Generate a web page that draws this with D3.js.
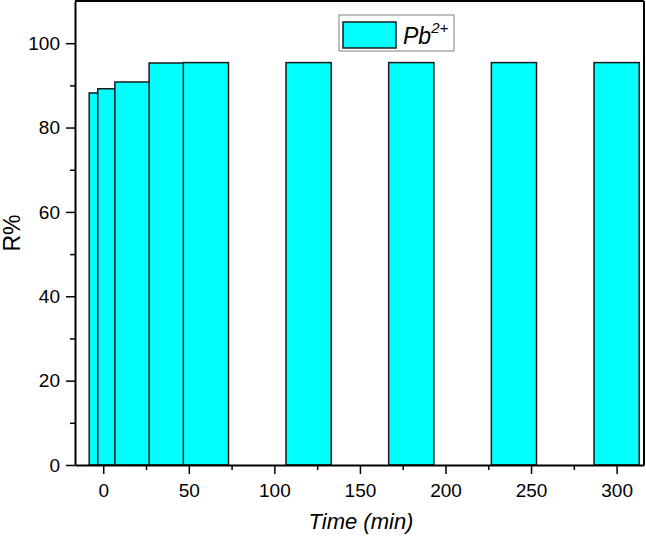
<!DOCTYPE html>
<html>
<head>
<meta charset="utf-8">
<script src="https://cdn.jsdelivr.net/npm/d3@7"></script>
<style>
  body { margin: 0; background: #fff; }
  svg { display: block; font-family: "Liberation Sans", Arial, sans-serif; }
</style>
</head>
<body>
<div id="chart"></div>
<script>
var times = [5, 10, 20, 40, 60, 120, 180, 240, 300];
var removal = [88.2, 89.2, 90.8, 95.3, 95.4, 95.4, 95.4, 95.4, 95.4];
var xTicks = [0, 50, 100, 150, 200, 250, 300];
var yTicks = [0, 20, 40, 60, 80, 100];
var seriesName = 'Pb';

var width = 646, height = 539;
var margin = { left: 75, right: 2, top: 1, bottom: 74 };
var barWidth = 26.4; // in minutes

var svg = d3.select('#chart').append('svg')
    .attr('width', width)
    .attr('height', height);

var x = d3.scaleLinear()
    .domain([-16.5, 316])
    .range([margin.left, width - margin.right]);

var y = d3.scaleLinear()
    .domain([0, 110])
    .range([height - margin.bottom, margin.top]);

svg.append('clipPath').attr('id', 'plot')
    .append('rect')
    .attr('x', margin.left).attr('y', margin.top)
    .attr('width', width - margin.right - margin.left)
    .attr('height', height - margin.bottom - margin.top);

// bars, later ones drawn over earlier ones
svg.append('g')
    .attr('clip-path', 'url(#plot)')
    .selectAll('rect')
    .data(times)
    .enter()
    .append('rect')
    .attr('x', function (d) { return x(d - barWidth / 2); })
    .attr('width', function (d) { return x(d + barWidth / 2) - x(d - barWidth / 2); })
    .attr('y', function (d, i) { return y(removal[i]); })
    .attr('height', function (d, i) { return y(0) - y(removal[i]); })
    .style('fill', '#00ffff')
    .style('stroke', '#1a1a1a')
    .style('stroke-width', 1.5);

// frame top/right
svg.append('line')
    .attr('x1', margin.left).attr('x2', width - margin.right)
    .attr('y1', margin.top).attr('y2', margin.top)
    .style('stroke', '#000').style('stroke-width', 2);
svg.append('line')
    .attr('x1', width - margin.right).attr('x2', width - margin.right)
    .attr('y1', margin.top).attr('y2', y(0))
    .style('stroke', '#000').style('stroke-width', 2);

// minor ticks
var xMinor = d3.range(25, 316, 50);
var yMinor = d3.range(10, 110, 20);

svg.append('g')
    .attr('transform', 'translate(0,' + y(0) + ')')
    .call(d3.axisBottom(x).tickValues(xMinor).tickSize(5).tickFormat(''))
    .call(function (g) { g.select('.domain').remove(); });

svg.append('g')
    .attr('transform', 'translate(' + margin.left + ',0)')
    .call(d3.axisLeft(y).tickValues(yMinor).tickSize(5).tickFormat(''))
    .call(function (g) { g.select('.domain').remove(); });

var xAxis = svg.append('g')
    .attr('transform', 'translate(0,' + y(0) + ')')
    .call(d3.axisBottom(x).tickValues(xTicks).tickSize(9).tickSizeOuter(0).tickPadding(10));

var yAxis = svg.append('g')
    .attr('transform', 'translate(' + margin.left + ',0)')
    .call(d3.axisLeft(y).tickValues(yTicks).tickSize(9).tickSizeOuter(0).tickPadding(6));

svg.selectAll('.domain').style('stroke-width', 2);
svg.selectAll('.tick line').style('stroke-width', 1.5);
svg.selectAll('.tick text')
    .style('font-size', '19px')
    .style('font-family', '"Liberation Sans", Arial, sans-serif')
    .style('fill', '#000');

// axis titles
svg.append('text')
    .attr('x', 361).attr('y', 529)
    .style('text-anchor', 'middle')
    .style('font-size', '22px')
    .style('font-style', 'italic')
    .text('Time (min)');

svg.append('text')
    .attr('transform', 'translate(20,' + 233 + ') rotate(-90)')
    .style('text-anchor', 'middle')
    .style('font-size', '23px')
    .text('R%');

// legend
var legend = svg.append('g').attr('transform', 'translate(339,15)');
legend.append('rect')
    .attr('width', 115).attr('height', 36)
    .style('fill', '#fff')
    .style('stroke', '#808080')
    .style('stroke-width', 1);
legend.append('rect')
    .attr('x', 4).attr('y', 7)
    .attr('width', 53).attr('height', 26)
    .style('fill', '#00ffff')
    .style('stroke', '#1a1a1a')
    .style('stroke-width', 1.5);
var lt = legend.append('text')
    .attr('x', 64).attr('y', 29)
    .style('font-size', '23px')
    .style('font-style', 'italic');
lt.append('tspan').text(seriesName);
lt.append('tspan')
    .attr('dy', -11)
    .style('font-size', '15px')
    .text('2+');
</script>
</body>
</html>
